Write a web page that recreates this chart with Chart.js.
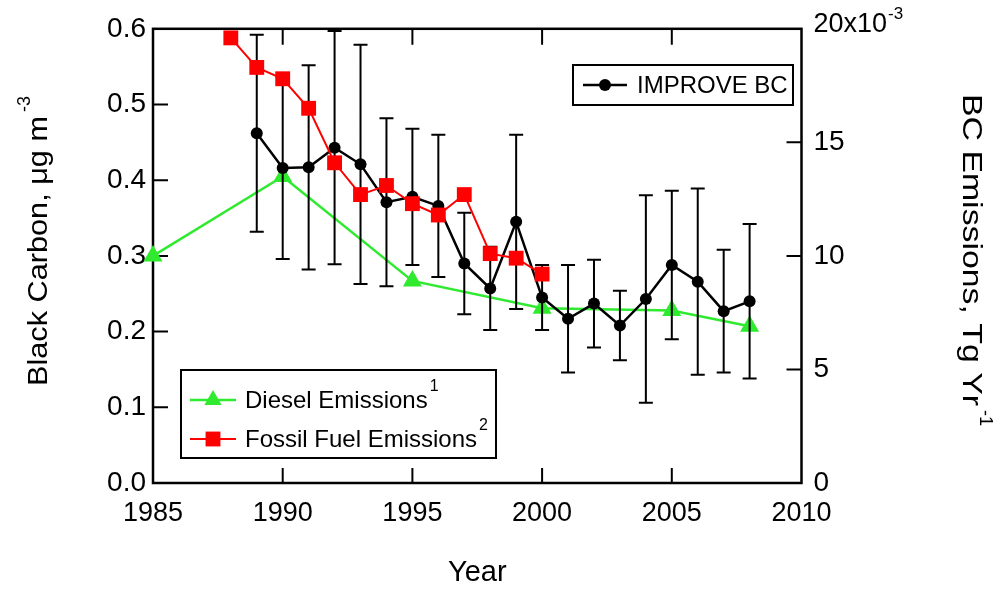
<!DOCTYPE html>
<html>
<head>
<meta charset="utf-8">
<script src="https://cdn.jsdelivr.net/npm/chart.js@4"></script>
<style>
  html, body { margin: 0; padding: 0; background: #fff; }
  #wrap { width: 999px; height: 592px; position: relative; }
</style>
</head>
<body>
<div id="wrap"><canvas id="bcChart"></canvas></div>
<script>
// data
var improveYears = [1989, 1990, 1991, 1992, 1993, 1994, 1995, 1996, 1997, 1998, 1999,
                    2000, 2001, 2002, 2003, 2004, 2005, 2006, 2007, 2008];
var improveBC  = [0.462, 0.416, 0.417, 0.443, 0.421, 0.371, 0.378, 0.366, 0.290, 0.257, 0.345,
                  0.245, 0.217, 0.237, 0.208, 0.243, 0.288, 0.266, 0.227, 0.240];
var improveErr = [0.130, 0.120, 0.135, 0.154, 0.158, 0.111, 0.090, 0.094, 0.067, 0.055, 0.115,
                  0.043, 0.071, 0.058, 0.046, 0.137, 0.098, 0.123, 0.081, 0.102];

var dieselYears = [1985, 1990, 1995, 2000, 2005, 2008];
var dieselEm    = [10.0, 13.5, 8.9, 7.7, 7.6, 6.9];          // x10^-3 Tg/yr

var fossilYears = [1988, 1989, 1990, 1991, 1992, 1993, 1994, 1995, 1996, 1997, 1998, 1999, 2000];
var fossilEm    = [19.6, 18.3, 17.8, 16.5, 14.1, 12.7, 13.1, 12.3, 11.8, 12.7, 10.1, 9.9, 9.2];

var xTicks     = [1985, 1990, 1995, 2000, 2005, 2010];
var leftTicks  = [0, 0.1, 0.2, 0.3, 0.4, 0.5, 0.6];
var rightTicks = [0, 5, 10, 15, 20];

var GREEN = '#2fea2f';
var RED = '#ff0000';
var FONT = '"Liberation Sans", Arial, sans-serif';

function pts(xs, ys) {
  return xs.map(function(x, i) { return {x: x, y: ys[i]}; });
}

function marker(ctx, style, x, y, r, color) {
  ctx.fillStyle = color;
  ctx.beginPath();
  if (style === 'circle') {
    ctx.arc(x, y, r, 0, Math.PI * 2);
  } else if (style === 'rect') {
    var s = r * Math.SQRT1_2;
    ctx.rect(x - s, y - s, 2 * s, 2 * s);
  } else {
    ctx.moveTo(x, y - r);
    ctx.lineTo(x + r * 0.866, y + r / 2);
    ctx.lineTo(x - r * 0.866, y + r / 2);
    ctx.closePath();
  }
  ctx.fill();
}

// rotated axis title, stretched to the length it has in the original
function sideTitle(ctx, text, sup, x, y, angle, len) {
  ctx.save();
  ctx.translate(x, y);
  ctx.rotate(angle);
  ctx.textAlign = 'left';
  ctx.textBaseline = 'alphabetic';
  ctx.font = '28px ' + FONT;
  var w = ctx.measureText(text).width;
  var k = len / w;
  ctx.save();
  ctx.scale(k, 1);
  ctx.fillText(text, 0, 0);
  ctx.restore();
  ctx.font = '18px ' + FONT;
  ctx.fillText(sup, len + 4, -17);
  ctx.restore();
}

var decor = {
  id: 'decor',
  beforeDatasetsDraw: function(chart) {
    var ctx = chart.ctx, a = chart.chartArea, s = chart.scales;
    ctx.save();
    ctx.strokeStyle = '#000';
    ctx.lineWidth = 2;
    ctx.beginPath();
    xTicks.forEach(function(v) {
      if (v === xTicks[0] || v === xTicks[xTicks.length - 1]) return;
      var px = s.x.getPixelForValue(v);
      ctx.moveTo(px, a.bottom); ctx.lineTo(px, a.bottom - 15);
      ctx.moveTo(px, a.top);    ctx.lineTo(px, a.top + 16);
    });
    leftTicks.slice(1, -1).forEach(function(v) {
      var py = s.y.getPixelForValue(v);
      ctx.moveTo(a.left, py); ctx.lineTo(a.left + 15, py);
    });
    rightTicks.slice(1, -1).forEach(function(v) {
      var py = s.y2.getPixelForValue(v);
      ctx.moveTo(a.right, py); ctx.lineTo(a.right - 15, py);
    });
    ctx.stroke();
    ctx.lineWidth = 2.5;
    ctx.strokeRect(a.left, a.top, a.width, a.height);
    ctx.restore();
  },
  beforeDatasetDraw: function(chart, args) {
    if (args.index !== 1) return;
    var ctx = chart.ctx, s = chart.scales;
    ctx.save();
    ctx.strokeStyle = '#000';
    ctx.lineWidth = 2;
    ctx.beginPath();
    improveYears.forEach(function(yr, i) {
      var px = s.x.getPixelForValue(yr);
      var top = s.y.getPixelForValue(improveBC[i] + improveErr[i]);
      var bot = s.y.getPixelForValue(improveBC[i] - improveErr[i]);
      ctx.moveTo(px, top); ctx.lineTo(px, bot);
      ctx.moveTo(px - 7, top); ctx.lineTo(px + 7, top);
      ctx.moveTo(px - 7, bot); ctx.lineTo(px + 7, bot);
    });
    ctx.stroke();
    ctx.restore();
  },
  afterDraw: function(chart) {
    var ctx = chart.ctx, a = chart.chartArea, s = chart.scales;
    ctx.save();
    ctx.fillStyle = '#000';
    ctx.textBaseline = 'alphabetic';

    // top label of the right axis, with its exponent
    var py20 = s.y2.getPixelForValue(20);
    ctx.font = '27px ' + FONT;
    ctx.textAlign = 'left';
    ctx.fillText('20x10', a.right + 12, py20 + 3);
    var w20 = ctx.measureText('20x10').width;
    ctx.font = '17px ' + FONT;
    ctx.fillText('-3', a.right + 13 + w20, py20 - 10);

    // x title
    ctx.font = '29px ' + FONT;
    ctx.textAlign = 'center';
    ctx.fillText('Year', (a.left + a.right) / 2, 581);

    sideTitle(ctx, 'Black Carbon, \u03bcg m', '-3', 47, 386, -Math.PI / 2, 270);
    sideTitle(ctx, 'BC Emissions, Tg Yr', '-1', 963, 94, Math.PI / 2, 312);

    // legend: IMPROVE BC
    ctx.strokeStyle = '#000';
    ctx.lineWidth = 2;
    ctx.strokeRect(573, 65, 220, 40);
    ctx.lineWidth = 2.5;
    ctx.beginPath(); ctx.moveTo(583, 85); ctx.lineTo(627, 85); ctx.stroke();
    marker(ctx, 'circle', 605, 85, 6, '#000');
    ctx.fillStyle = '#000';
    ctx.font = '24px ' + FONT;
    ctx.textAlign = 'left';
    ctx.textBaseline = 'middle';
    ctx.fillText(chart.data.datasets[1].label, 637, 86);

    // legend: emissions
    ctx.lineWidth = 2;
    ctx.strokeStyle = '#000';
    ctx.strokeRect(181, 370, 315, 88);
    var rows = [
      {ds: chart.data.datasets[2], y: 400, sup: '1', style: 'triangle', r: 10},
      {ds: chart.data.datasets[0], y: 439, sup: '2', style: 'rect', r: 10.5}
    ];
    rows.forEach(function(row) {
      ctx.strokeStyle = row.ds.borderColor;
      ctx.lineWidth = row.ds.borderWidth;
      ctx.beginPath(); ctx.moveTo(190, row.y); ctx.lineTo(236, row.y); ctx.stroke();
      marker(ctx, row.style, 213, row.y, row.r, row.ds.borderColor);
      ctx.fillStyle = '#000';
      ctx.font = '24px ' + FONT;
      ctx.textBaseline = 'middle';
      ctx.fillText(row.ds.label, 245, row.y + 1);
      var wl = ctx.measureText(row.ds.label).width;
      ctx.font = '16px ' + FONT;
      ctx.fillText(row.sup, 245 + wl + 2, row.y - 13);
    });
    ctx.restore();
  }
};

var ctx = document.getElementById('bcChart');
new Chart(ctx, {
  type: 'line',
  data: {
    datasets: [{
      label: 'Fossil Fuel Emissions',
      data: pts(fossilYears, fossilEm),
      yAxisID: 'y2',
      borderColor: RED,
      backgroundColor: RED,
      borderWidth: 2,
      pointStyle: 'rect',
      pointRadius: 10.5,
      pointBorderWidth: 0,
      clip: false
    }, {
      label: 'IMPROVE BC',
      data: pts(improveYears, improveBC),
      yAxisID: 'y',
      borderColor: '#000',
      backgroundColor: '#000',
      borderWidth: 2.5,
      pointStyle: 'circle',
      pointRadius: 6,
      pointBorderWidth: 0,
      clip: false
    }, {
      label: 'Diesel Emissions',
      data: pts(dieselYears, dieselEm),
      yAxisID: 'y2',
      borderColor: GREEN,
      backgroundColor: GREEN,
      borderWidth: 2.5,
      pointStyle: 'triangle',
      pointRadius: 11,
      pointBorderWidth: 0,
      clip: false
    }]
  },
  options: {
    responsive: true,
    maintainAspectRatio: false,
    animation: false,
    layout: { padding: { top: 27, left: 0, right: 0, bottom: 0 } },
    plugins: { legend: { display: false }, tooltip: { enabled: false } },
    elements: { line: { tension: 0 } },
    scales: {
      x: {
        type: 'linear',
        min: 1985, max: 2010,
        afterBuildTicks: function(sc) { sc.ticks = xTicks.map(function(v) { return {value: v}; }); },
        afterFit: function(sc) { sc.height = 109; },
        grid: { display: false, drawTicks: false },
        border: { display: false },
        ticks: {
          color: '#000', padding: 14, maxRotation: 0,
          font: { family: FONT, size: 27 },
          callback: function(v) { return String(v); }
        }
      },
      y: {
        position: 'left',
        min: 0, max: 0.6,
        afterBuildTicks: function(sc) { sc.ticks = leftTicks.map(function(v) { return {value: v}; }); },
        afterFit: function(sc) { sc.width = 153; },
        grid: { display: false, drawTicks: false },
        border: { display: false },
        ticks: {
          color: '#000', padding: 7,
          font: { family: FONT, size: 28 },
          callback: function(v) { return v.toFixed(1); }
        }
      },
      y2: {
        position: 'right',
        min: 0, max: 20,
        afterBuildTicks: function(sc) { sc.ticks = rightTicks.map(function(v) { return {value: v}; }); },
        afterFit: function(sc) { sc.width = 197.5; },
        grid: { display: false, drawTicks: false },
        border: { display: false },
        ticks: {
          color: '#000', padding: 12,
          font: { family: FONT, size: 28 },
          callback: function(v) { return v === 20 ? '' : String(v); }
        }
      }
    }
  },
  plugins: [decor]
});
</script>
</body>
</html>
